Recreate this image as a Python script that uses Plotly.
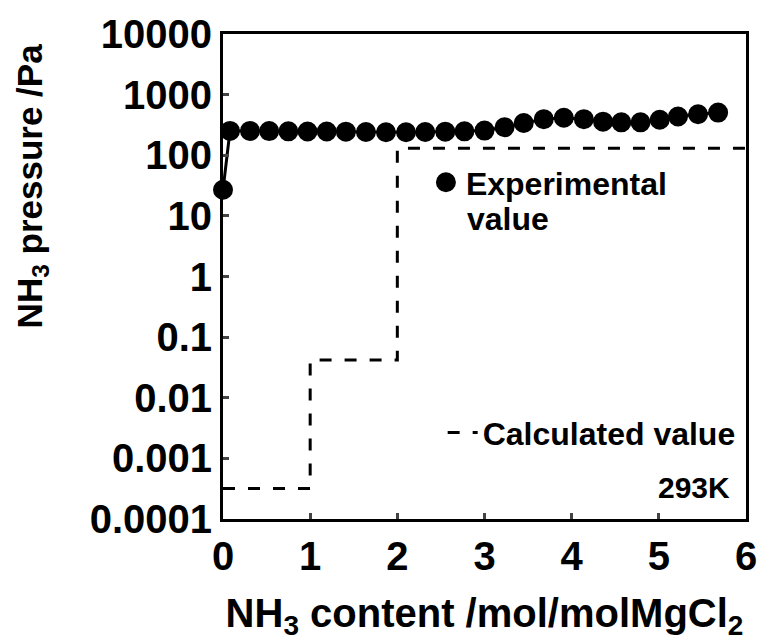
import plotly.graph_objects as go

# Experimental NH3 equilibrium pressure vs NH3 content (293 K)
exp_content = [0.0, 0.08, 0.31, 0.53, 0.75, 0.97, 1.19, 1.41, 1.64, 1.87,
               2.10, 2.32, 2.55, 2.77, 3.00, 3.23, 3.45, 3.68, 3.91, 4.14,
               4.36, 4.57, 4.79, 5.01, 5.22, 5.45, 5.68]
exp_pressure = [27, 252, 252, 250, 248, 246, 246, 245, 242, 240,
                240, 242, 245, 248, 255, 290, 340, 394, 416, 394,
                358, 349, 349, 385, 436, 475, 506]

# Calculated step profile (plateau pressures of each ammine stage)
calc_content = [0, 1, 2, 6]
calc_pressure = [0.00032, 0.042, 130, 130]

y_tickvals = [1e-4, 1e-3, 1e-2, 1e-1, 1, 10, 100, 1000, 10000]
y_ticktext = ["0.0001", "0.001", "0.01", "0.1", "1", "10", "100", "1000", "10000"]
x_tickvals = [0, 1, 2, 3, 4, 5, 6]

FONT = "Liberation Sans, Arial, Helvetica, sans-serif"
BOLD = dict(family=FONT, color="black", weight="bold")

fig = go.Figure()

# connecting line of the experimental series
fig.add_trace(go.Scatter(
    x=exp_content, y=exp_pressure, mode="lines",
    line=dict(color="black", width=3),
    showlegend=False, cliponaxis=False, hoverinfo="skip",
))
# experimental points (filled circle + outline gives ~20 px dots, also in the legend)
fig.add_trace(go.Scatter(
    x=exp_content, y=exp_pressure, mode="markers",
    marker=dict(color="black", size=16, symbol="circle",
                line=dict(color="black", width=4)),
    name="Experimental", legend="legend",
    cliponaxis=False,
))
# calculated step curve
fig.add_trace(go.Scatter(
    x=calc_content, y=calc_pressure, mode="lines",
    line=dict(color="black", width=3, dash="12px,13px", shape="hv"),
    name="Calculated value", legend="legend2",
    cliponaxis=False,
))

# second line of the experimental legend label
fig.add_annotation(
    text="value", xref="paper", yref="paper", x=0.463, y=0.618,
    xanchor="left", yanchor="middle", showarrow=False,
    font=dict(BOLD, size=32),
)
fig.add_annotation(
    text="293K", xref="paper", yref="paper", x=0.9735, y=0.065,
    xanchor="right", yanchor="middle", showarrow=False,
    font=dict(BOLD, size=30),
)
fig.add_annotation(
    text="NH<sub>3</sub> pressure /Pa", xref="paper", yref="paper",
    x=-0.365, y=0.686, xanchor="center", yanchor="middle",
    textangle=-90, showarrow=False,
    font=dict(BOLD, size=35),
)

fig.update_layout(
    width=769, height=642,
    margin=dict(l=223, r=18, t=25, b=123),
    paper_bgcolor="white", plot_bgcolor="white",
    font=BOLD,
    legend=dict(
        x=0.388, y=0.694, xanchor="left", yanchor="middle",
        bgcolor="rgba(0,0,0,0)", font=dict(BOLD, size=32),
        itemsizing="trace",
    ),
    legend2=dict(
        x=0.42, y=0.178, xanchor="left", yanchor="middle",
        bgcolor="rgba(0,0,0,0)", font=dict(BOLD, size=32),
    ),
    xaxis=dict(
        range=[0, 6], tickvals=x_tickvals, ticks="inside", ticklen=6, tickwidth=3,
        showline=True, linecolor="black", linewidth=3, mirror=True,
        showgrid=False, zeroline=False,
        tickfont=dict(BOLD, size=40),
        title=dict(text="NH<sub>3</sub> content /mol/molMgCl<sub>2</sub>",
                   font=dict(BOLD, size=40), standoff=22),
    ),
    yaxis=dict(
        type="log", range=[-4, 4], tickvals=y_tickvals, ticktext=y_ticktext,
        ticks="inside", ticklen=6, tickwidth=3,
        showline=True, linecolor="black", linewidth=3, mirror=True,
        showgrid=False, zeroline=False,
        tickfont=dict(BOLD, size=40),
    ),
)

fig.write_html("out.html")
